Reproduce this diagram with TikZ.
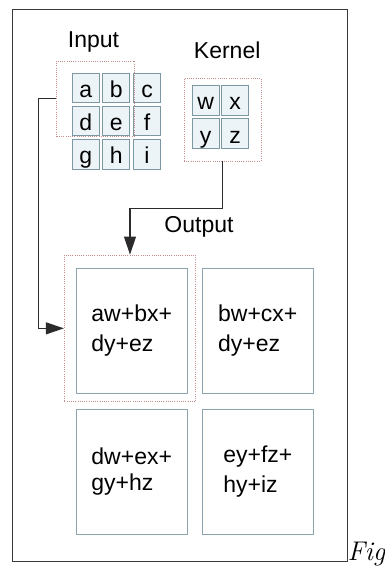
\documentclass[tikz,border=0pt]{standalone}
\usepackage{fontspec}
\newfontfamily\labelfont{Liberation Sans}
\usetikzlibrary{arrows.meta}
\definecolor{cellfill}{HTML}{EDF4F7}
\definecolor{cellline}{HTML}{7D97A3}
\definecolor{boxline}{HTML}{8DA3AE}
\definecolor{winline}{HTML}{C78C8C}
\definecolor{wire}{HTML}{2B2B2B}
\definecolor{framecol}{HTML}{3A3A3A}

\begin{document}
\begin{tikzpicture}[x=1pt,y=-1pt,
  lbl/.style={anchor=base, inner sep=0, font=\labelfont\fontsize{23}{28}\selectfont},
  cell/.style={draw=cellline, fill=cellfill, line width=1pt,
    minimum width=27pt, minimum height=29.5pt, inner sep=0,
    text height=20pt, text depth=1pt, font=\labelfont\fontsize{23}{28}\selectfont},
  outcell/.style={draw=boxline, line width=1pt, minimum width=111pt,
    minimum height=125pt, inner sep=0, align=left},
  outtext/.style={font=\labelfont\fontsize{23}{30}\selectfont},
  window/.style={draw=winline, line width=0.9pt, dash pattern=on 1pt off 1.2pt,
    inner sep=0},
  link/.style={draw=wire, line width=1.1pt, -{Triangle[length=18pt,width=12pt]}},
]
\useasboundingbox (0,0) rectangle (385,567);

% outer frame and caption
\draw[framecol, line width=1pt] (12,10) rectangle (347,561);
\node[anchor=base west, inner sep=0, font=\fontsize{27}{30}\selectfont\itshape] (cap) at (347.5,560) {Fig};

% titles
\node[lbl] (tin) at (93.5,47.7) {Input};
\node[lbl] (tk) at (227.2,58.3) {Kernel};
\node[lbl] (tout) at (199,232.3) {Output};

% input matrix
\node[cell] (a) at (85.8,88) {a};
\node[cell] (b) at (116.3,88) {b};
\node[cell] (c) at (147,88) {c};
\node[cell] (d) at (85.8,121) {d};
\node[cell] (e) at (116.3,121) {e};
\node[cell] (f) at (147,121) {f};
\node[cell] (g) at (85.8,154.3) {g};
\node[cell] (h) at (116.3,154.3) {h};
\node[cell] (i) at (147,154.3) {i};

% kernel
\node[cell] (w) at (205.7,100.3) {w};
\node[cell] (xk) at (235,100.3) {x};
\node[cell] (yk) at (205.7,133.7) {y};
\node[cell] (zk) at (235,133.7) {z};

% output cells
\node[outcell, outtext] (o1) at (131.7,330.8) {aw+bx+\\dy+ez};
\node[outcell, outtext] (o2) at (257.8,330.8) {bw+cx+\\dy+ez};
\node[outcell, font=\labelfont\fontsize{23}{26}\selectfont] (o3) at (131.7,471.8) {dw+ex+\\gy+hz};
\node[outcell, outtext] (o4) at (257.8,471.8) {ey+fz+\\hy+iz};

% sliding windows
\node[window, minimum width=77.6pt, minimum height=75.7pt] (inwin) at (95.5,98.85) {};
\node[window, minimum width=77pt, minimum height=83pt] (kwin) at (222.5,119.5) {};
\node[window, minimum width=131.4pt, minimum height=146.7pt] (outwin) at (130,328.35) {};

% connectors
\draw[link] (inwin.west) -- ++(-17.5,0) |- (outwin.west);
\draw[link] (kwin.south) -- ++(0,47) -| (outwin.north);
\end{tikzpicture}
\end{document}
